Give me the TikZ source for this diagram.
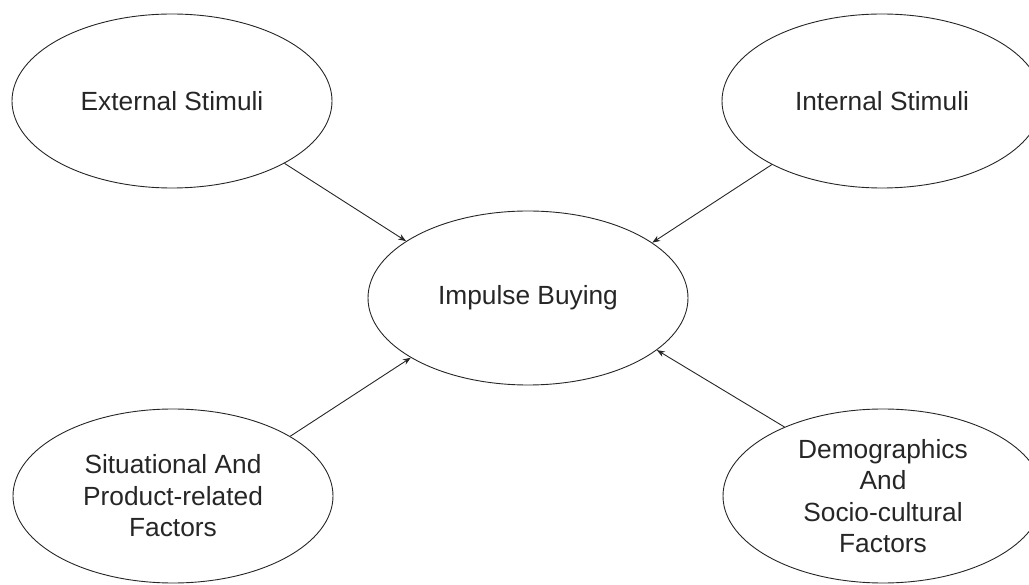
\documentclass[tikz,border=0pt]{standalone}
\usepackage{fontspec}
\setmainfont{Liberation Sans}
\usetikzlibrary{shapes.geometric,arrows.meta}
\begin{document}
\begin{tikzpicture}[x=1pt,y=-1pt,
  oval/.style={draw=black!85,line width=0.9pt,ellipse,minimum width=320pt,minimum height=174pt,inner sep=0pt,
    align=center,font=\fontsize{26.3}{31.5}\selectfont,text=black!85},
  link/.style={draw=black!85,line width=0.9pt,-{Stealth[length=8pt,width=6pt]}}]
\clip (0,0) rectangle (1029,585);
\useasboundingbox (0,0) rectangle (1029,585);
\node[oval] (ext) at (172,101) {External Stimuli};
\node[oval] (int) at (882,101) {Internal Stimuli};
\node[oval] (imp) at (528,298) {Impulse Buying};
\node[oval] (sit) at (173,496) {Situational And\\Product-related\\Factors};
\node[oval] (dem) at (883,496) {Demographics\\And\\Socio-cultural\\Factors};
\draw[link] (ext.-29.6) -- (imp.155.9);
\draw[link] (int.210.2) -- (imp.24.3);
\draw[link] (sit.27.5) -- (imp.207.4);
\draw[link] (dem.145.5) -- (imp.-22);
\end{tikzpicture}
\end{document}
